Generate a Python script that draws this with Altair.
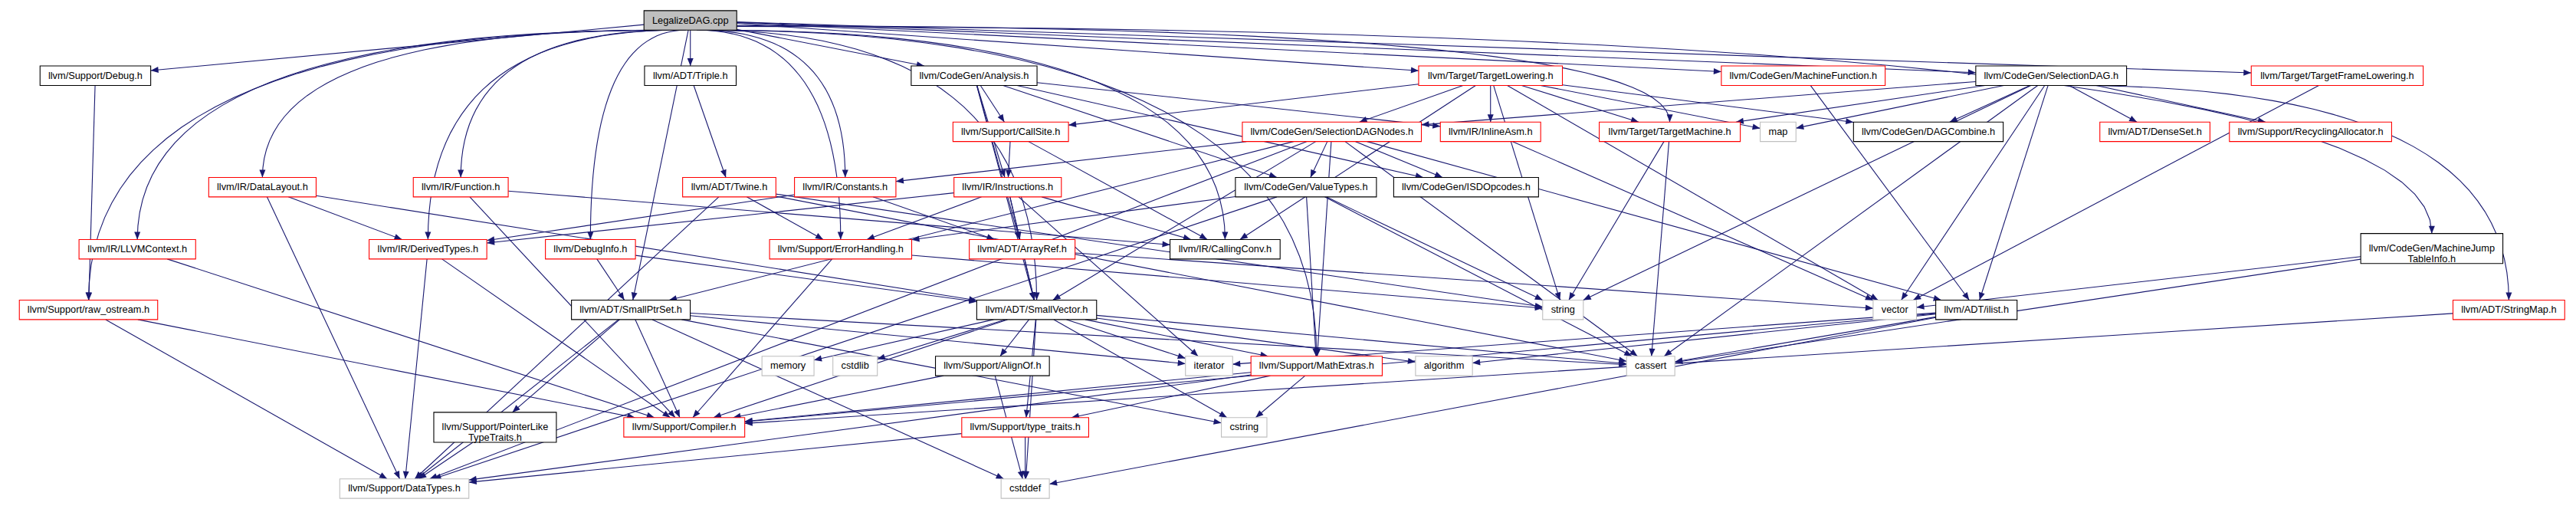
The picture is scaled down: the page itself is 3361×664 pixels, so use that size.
import math
import altair as alt
import pandas as pd

# ---------------- data ----------------
node_ids = [
    "L", "debug", "triple", "analysis", "tlow", "mf", "sdag", "tfl",
    "callsite", "sdnodes", "inlineasm", "tm", "map", "dagcombine", "denseset", "recycl",
    "datalayout", "function", "twine", "constants", "instructions", "valuetypes", "isdopcodes",
    "llvmcontext", "derived", "debuginfo", "errorh", "arrayref", "callingconv", "mjti",
    "rawos", "smallptrset", "smallvector", "string", "vector", "ilist", "stringmap",
    "memory", "cstdlib", "alignof", "iterator", "mathextras", "algorithm", "cassert",
    "pointerlike", "compiler", "typetraits", "cstring",
    "datatypes", "cstddef",
]
node_labels = [
    "LegalizeDAG.cpp", "llvm/Support/Debug.h", "llvm/ADT/Triple.h", "llvm/CodeGen/Analysis.h",
    "llvm/Target/TargetLowering.h", "llvm/CodeGen/MachineFunction.h", "llvm/CodeGen/SelectionDAG.h",
    "llvm/Target/TargetFrameLowering.h",
    "llvm/Support/CallSite.h", "llvm/CodeGen/SelectionDAGNodes.h", "llvm/IR/InlineAsm.h",
    "llvm/Target/TargetMachine.h", "map", "llvm/CodeGen/DAGCombine.h", "llvm/ADT/DenseSet.h",
    "llvm/Support/RecyclingAllocator.h",
    "llvm/IR/DataLayout.h", "llvm/IR/Function.h", "llvm/ADT/Twine.h", "llvm/IR/Constants.h",
    "llvm/IR/Instructions.h", "llvm/CodeGen/ValueTypes.h", "llvm/CodeGen/ISDOpcodes.h",
    "llvm/IR/LLVMContext.h", "llvm/IR/DerivedTypes.h", "llvm/DebugInfo.h",
    "llvm/Support/ErrorHandling.h", "llvm/ADT/ArrayRef.h", "llvm/IR/CallingConv.h",
    "llvm/CodeGen/MachineJump\nTableInfo.h",
    "llvm/Support/raw_ostream.h", "llvm/ADT/SmallPtrSet.h", "llvm/ADT/SmallVector.h", "string",
    "vector", "llvm/ADT/ilist.h", "llvm/ADT/StringMap.h",
    "memory", "cstdlib", "llvm/Support/AlignOf.h", "iterator", "llvm/Support/MathExtras.h",
    "algorithm", "cassert",
    "llvm/Support/PointerLike\nTypeTraits.h", "llvm/Support/Compiler.h", "llvm/Support/type_traits.h",
    "cstring",
    "llvm/Support/DataTypes.h", "cstddef",
]
# node centres (image pixels)
node_x = [
    897, 117, 897, 1269, 1946, 2356, 2681, 3056,
    1317, 1738, 1946, 2181, 2323, 2520, 2817, 3021,
    336, 596, 948, 1100, 1313, 1704, 1914,
    172, 553, 766, 1094, 1332, 1598, 3180,
    108, 819, 1351, 2041, 2476, 2583, 3281,
    1025, 1113, 1293, 1577, 1718, 1885, 2156,
    641, 889, 1336, 1623,
    522, 1336,
]
node_y = [
    19, 93, 93, 93, 93, 93, 93, 93,
    168, 168, 168, 168, 168, 168, 168, 168,
    242, 242, 242, 242, 242, 242, 242,
    325, 325, 325, 325, 325, 325, 324,
    406, 406, 406, 406, 406, 406, 406,
    481, 481, 481, 481, 481, 481, 481,
    563, 563, 563, 563,
    645, 645,
]
# root = the file itself, full = documented, trunc = has hidden includes, sys = system header
node_kind = [
    "root", "full", "full", "full", "trunc", "trunc", "full", "trunc",
    "trunc", "trunc", "trunc", "trunc", "sys", "full", "trunc", "trunc",
    "trunc", "trunc", "trunc", "trunc", "trunc", "full", "full",
    "trunc", "trunc", "trunc", "trunc", "trunc", "full", "full",
    "trunc", "full", "full", "sys", "sys", "full", "trunc",
    "sys", "sys", "full", "sys", "trunc", "sys", "sys",
    "full", "trunc", "trunc", "sys",
    "sys", "sys",
]

edge_pairs = [
    ("L", "debug"), ("L", "rawos"), ("L", "llvmcontext"), ("L", "datalayout"), ("L", "derived"),
    ("L", "function"), ("L", "debuginfo"), ("L", "smallptrset"), ("L", "smallvector"),
    ("L", "triple"), ("L", "constants"), ("L", "errorh"), ("L", "analysis"), ("L", "callingconv"),
    ("L", "mathextras"), ("L", "tlow"), ("L", "mf"), ("L", "sdag"), ("L", "tfl"), ("L", "mjti"),
    ("L", "tm"),
    ("debug", "rawos"),
    ("rawos", "compiler"), ("rawos", "datatypes"),
    ("llvmcontext", "compiler"),
    ("datalayout", "derived"), ("datalayout", "datatypes"), ("datalayout", "smallvector"),
    ("function", "callingconv"), ("function", "compiler"),
    ("derived", "datatypes"), ("derived", "compiler"),
    ("triple", "twine"),
    ("twine", "errorh"), ("twine", "datatypes"), ("twine", "cassert"), ("twine", "string"),
    ("constants", "derived"), ("constants", "arrayref"),
    ("analysis", "callsite"), ("analysis", "instructions"), ("analysis", "arrayref"),
    ("analysis", "smallvector"), ("analysis", "valuetypes"), ("analysis", "isdopcodes"),
    ("analysis", "inlineasm"),
    ("callsite", "instructions"), ("callsite", "callingconv"),
    ("tlow", "callsite"), ("tlow", "sdnodes"), ("tlow", "inlineasm"), ("tlow", "tm"),
    ("tlow", "callingconv"), ("tlow", "dagcombine"), ("tlow", "map"), ("tlow", "vector"),
    ("tlow", "string"),
    ("sdnodes", "constants"), ("sdnodes", "smallptrset"), ("sdnodes", "valuetypes"),
    ("sdnodes", "isdopcodes"), ("sdnodes", "smallvector"), ("sdnodes", "mathextras"),
    ("sdnodes", "cassert"), ("sdnodes", "datatypes"), ("sdnodes", "ilist"),
    ("instructions", "errorh"), ("instructions", "arrayref"), ("instructions", "smallvector"),
    ("instructions", "derived"), ("instructions", "iterator"), ("instructions", "callingconv"),
    ("debuginfo", "smallptrset"), ("debuginfo", "smallvector"),
    ("errorh", "compiler"), ("errorh", "string"),
    ("arrayref", "smallvector"), ("arrayref", "vector"),
    ("inlineasm", "vector"),
    ("valuetypes", "errorh"), ("valuetypes", "mathextras"), ("valuetypes", "string"),
    ("valuetypes", "cassert"), ("valuetypes", "datatypes"),
    ("tm", "string"), ("tm", "cassert"),
    ("mf", "ilist"),
    ("sdag", "sdnodes"), ("sdag", "tm"), ("sdag", "map"), ("sdag", "dagcombine"),
    ("sdag", "ilist"), ("sdag", "vector"), ("sdag", "denseset"), ("sdag", "recycl"),
    ("sdag", "string"), ("sdag", "cassert"), ("sdag", "stringmap"),
    ("tfl", "vector"),
    ("mjti", "vector"), ("mjti", "cassert"),
    ("smallptrset", "compiler"), ("smallptrset", "datatypes"), ("smallptrset", "pointerlike"),
    ("smallptrset", "cstddef"), ("smallptrset", "cstring"), ("smallptrset", "iterator"),
    ("smallptrset", "cassert"),
    ("smallvector", "alignof"), ("smallvector", "compiler"), ("smallvector", "mathextras"),
    ("smallvector", "typetraits"), ("smallvector", "algorithm"), ("smallvector", "cassert"),
    ("smallvector", "cstddef"), ("smallvector", "cstdlib"), ("smallvector", "cstring"),
    ("smallvector", "iterator"), ("smallvector", "memory"),
    ("alignof", "compiler"), ("alignof", "cstddef"),
    ("mathextras", "compiler"), ("mathextras", "typetraits"), ("mathextras", "cstring"),
    ("mathextras", "datatypes"),
    ("typetraits", "datatypes"), ("typetraits", "cstddef"),
    ("pointerlike", "datatypes"),
    ("ilist", "cassert"), ("ilist", "algorithm"), ("ilist", "iterator"), ("ilist", "cstddef"),
    ("ilist", "compiler"),
    ("stringmap", "compiler"),
]

# ---------------- geometry derived from the data ----------------
FONT = 12.8
# Helvetica advance widths (1/1000 em)
HW = dict(zip("abcdefghijklmnopqrstuvwxyz",
              [556, 556, 500, 556, 556, 278, 556, 556, 222, 222, 500, 222, 833,
               556, 556, 556, 556, 333, 500, 278, 556, 500, 722, 500, 500, 500]))
HW.update(zip("ABCDEFGHIJKLMNOPQRSTUVWXYZ",
              [667, 667, 722, 722, 667, 611, 778, 722, 278, 500, 667, 556, 833,
               722, 778, 667, 778, 722, 667, 611, 722, 667, 944, 667, 667, 611]))
HW.update({"/": 278, ".": 278, "_": 556, " ": 278})


def text_width(s):
    return sum(HW.get(c, 556) for c in s) / 1000.0 * FONT


nodes = []
geo = {}
for nid, lab, cx, cy, kind in zip(node_ids, node_labels, node_x, node_y, node_kind):
    lines = lab.split("\n")
    w = max(text_width(t) for t in lines) + 22
    h = 26 if len(lines) == 1 else 40
    geo[nid] = (cx, cy, w / 2, h / 2)
    nodes.append(dict(id=nid, label=lab, cx=cx, cy=cy, x0=cx - w / 2, x1=cx + w / 2,
                      y0=cy - h / 2, y1=cy + h / 2, kind=kind))
nodes_df = pd.DataFrame(nodes)


def clip(g, dx, dy):
    cx, cy, hw, hh = g
    tx = hw / abs(dx) if dx else float("inf")
    ty = hh / abs(dy) if dy else float("inf")
    t = min(tx, ty)
    return cx + dx * t, cy + dy * t


pts = []
heads = []
for i, (s, t) in enumerate(edge_pairs):
    gs, gt = geo[s], geo[t]
    dx, dy = gt[0] - gs[0], gt[1] - gs[1]
    sx, sy = clip(gs, dx, dy)
    # long sweeping edges: leave sideways, arrive from above (elbow curve)
    elbow = (s == "L" and gt[1] > 100 and abs(dx) > 120) or (s == "sdag" and t == "stringmap")
    if elbow:
        ex, ey = gt[0], gt[1] - gt[3]
        qx, qy = ex, sy
        n = 30
        for k in range(n + 1):
            u = k / n
            x = (1 - u) ** 2 * sx + 2 * (1 - u) * u * qx + u ** 2 * ex
            y = (1 - u) ** 2 * sy + 2 * (1 - u) * u * qy + u ** 2 * ey
            pts.append(dict(id=i, o=k, x=x, y=y))
        ang = 180.0
    else:
        ex, ey = clip(gt, -dx, -dy)
        pts.append(dict(id=i, o=0, x=sx, y=sy))
        pts.append(dict(id=i, o=1, x=ex, y=ey))
        ang = math.degrees(math.atan2(ex - sx, -(ey - sy))) % 360
    heads.append(dict(id=i, x=ex, y=ey, angle=ang))
pts_df = pd.DataFrame(pts)
heads_df = pd.DataFrame(heads)

# ---------------- chart ----------------
EDGE = "#191970"
xs = alt.Scale(domain=[0, 3361], nice=False, zero=False)
ys = alt.Scale(domain=[0, 664], nice=False, zero=False, reverse=True)

lines_layer = alt.Chart(pts_df).mark_line(color=EDGE, strokeWidth=1.1).encode(
    x=alt.X("x:Q", scale=xs, axis=None),
    y=alt.Y("y:Q", scale=ys, axis=None),
    detail="id:N",
    order="o:Q",
)

arrows = alt.Chart(heads_df).mark_point(
    shape="M0,0L-0.4,1L0.4,1Z", filled=True, size=400, color=EDGE, opacity=1, strokeWidth=0
).encode(
    x=alt.X("x:Q", scale=xs, axis=None),
    y=alt.Y("y:Q", scale=ys, axis=None),
    angle=alt.Angle("angle:Q", scale=None),
)

kind_dom = ["root", "full", "trunc", "sys"]
boxes = alt.Chart(nodes_df).mark_rect(strokeWidth=1.1).encode(
    x=alt.X("x0:Q", scale=xs, axis=None),
    x2="x1:Q",
    y=alt.Y("y0:Q", scale=ys, axis=None),
    y2="y1:Q",
    stroke=alt.Stroke("kind:N", scale=alt.Scale(domain=kind_dom,
                      range=["#000000", "#000000", "#ff0000", "#bfbfbf"]), legend=None),
    fill=alt.Fill("kind:N", scale=alt.Scale(domain=kind_dom,
                  range=["#bfbfbf", "#ffffff", "#ffffff", "#ffffff"]), legend=None),
)

labels = alt.Chart(nodes_df).mark_text(
    font="Liberation Sans", fontSize=FONT, color="#000000", align="center",
    baseline="middle", lineBreak="\n", lineHeight=14
).encode(
    x=alt.X("cx:Q", scale=xs, axis=None),
    y=alt.Y("cy:Q", scale=ys, axis=None),
    text="label:N",
)

chart = alt.layer(lines_layer, arrows, boxes, labels).properties(
    width=3345, height=648, autosize=alt.AutoSizeParams(type="none"), padding=0,
    background="#ffffff",
).configure_view(stroke=None)

chart.save("out.html", embed_options={"renderer": "svg", "actions": False})
